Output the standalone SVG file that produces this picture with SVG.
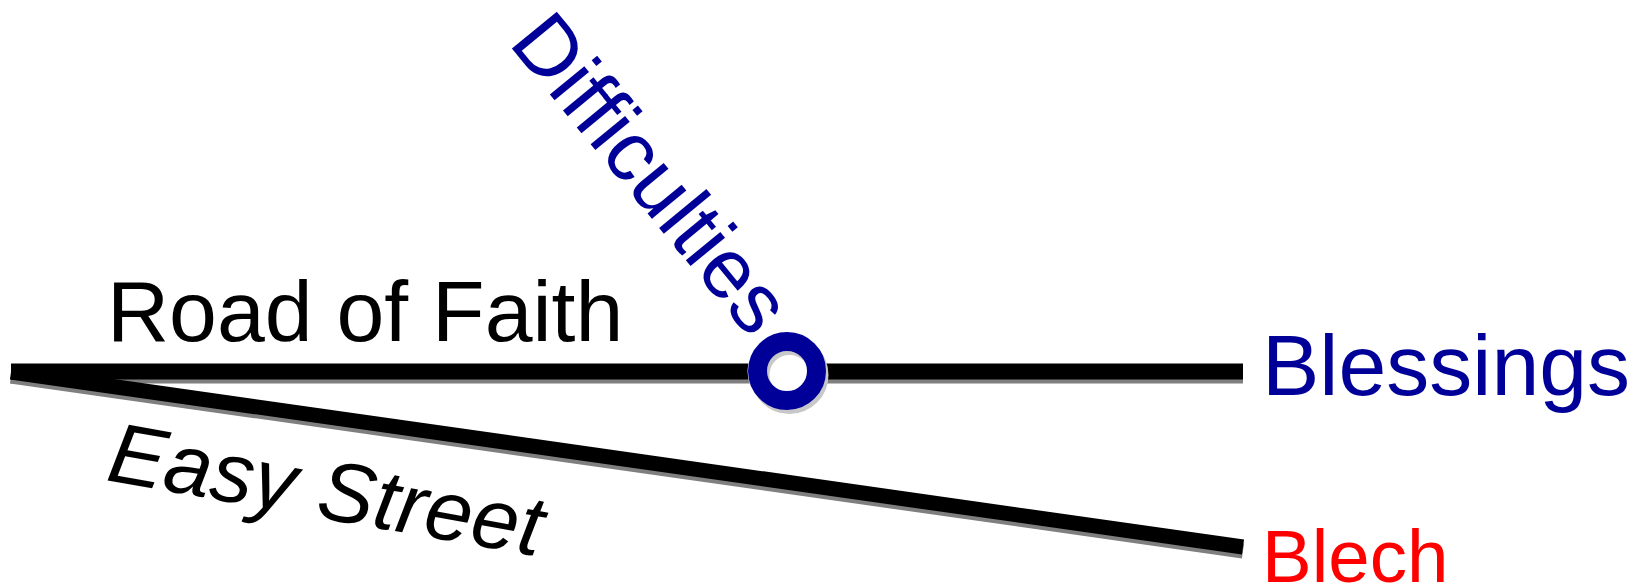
<svg xmlns="http://www.w3.org/2000/svg" width="1643" height="587" viewBox="0 0 1643 587">
  <style>
    .road { stroke: #000000; stroke-linecap: butt; fill: none; }
    .shadow { stroke: #7f7f7f; stroke-linecap: butt; fill: none; }
    .lbl { font-family: "Liberation Sans", Arial, sans-serif; }
    .blue { fill: #000099; }
  </style>
  <rect x="0" y="0" width="1643" height="587" fill="#ffffff"/>
  <g id="connectors">
    <line class="shadow" x1="11" y1="375.5" x2="1243" y2="375.5" stroke-width="16"/>
    <line class="shadow" x1="11" y1="376" x2="1243" y2="551" stroke-width="15"/>
    <line class="road" x1="11" y1="371.5" x2="1243" y2="371.5" stroke-width="16"/>
    <line class="road" x1="11" y1="372" x2="1243" y2="547" stroke-width="15"/>
  </g>
  <g id="label-road-of-faith">
    <text class="lbl" x="107" y="341" font-size="86" fill="#000000">Road of Faith</text>
  </g>
  <g id="label-easy-street">
    <text class="lbl" transform="translate(105,480) rotate(10)" font-size="85" font-style="italic" fill="#000000">Easy Street</text>
  </g>
  <g id="node-difficulties">
    <circle cx="787" cy="371" r="39.5" fill="#ffffff"/>
    <circle cx="789.5" cy="375" r="29.5" fill="none" stroke="#c8c8c8" stroke-width="19"/>
    <circle cx="787" cy="371" r="29.5" fill="none" stroke="#000099" stroke-width="19"/>
    <text class="lbl blue" transform="translate(507.5,43.2) rotate(50.6)" font-size="84.5">Difficulties</text>
  </g>
  <g id="node-blessings">
    <text class="lbl blue" x="1262" y="394.5" font-size="86">Blessings</text>
  </g>
  <g id="node-blech">
    <text class="lbl" x="1262" y="581.5" font-size="74.5" fill="#ff0000">Blech</text>
  </g>
</svg>
